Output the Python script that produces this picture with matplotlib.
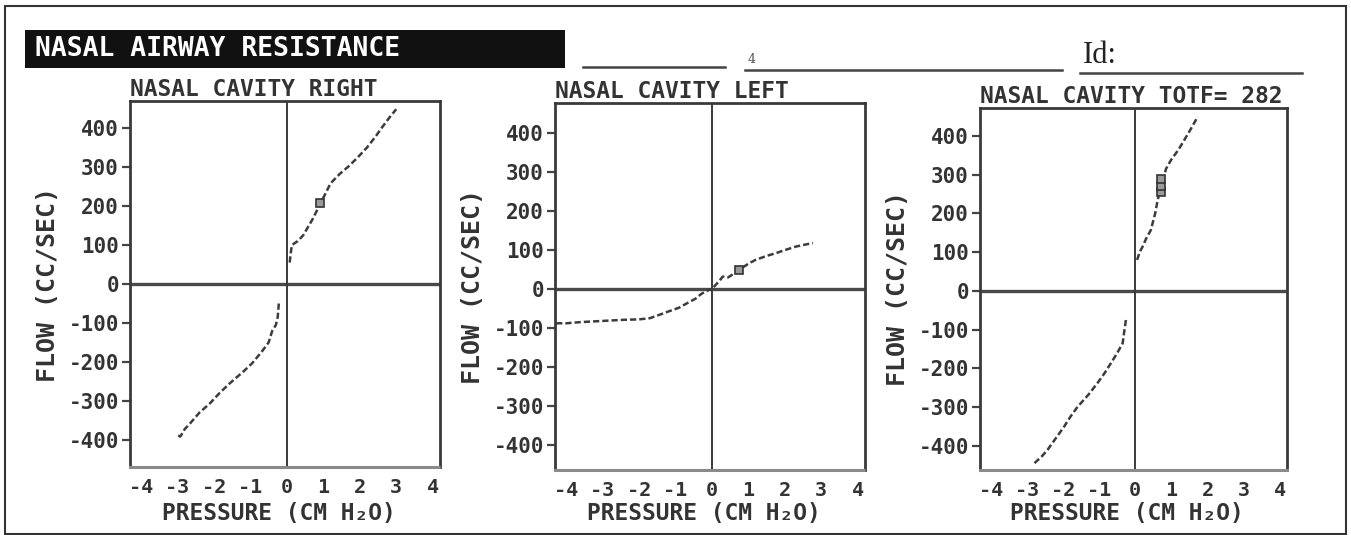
import matplotlib
matplotlib.use("Agg")
import matplotlib.pyplot as plt
from matplotlib.patches import Rectangle
from matplotlib.lines import Line2D

# ---------------------------------------------------------------------------
# data (pressure cm H2O, flow cc/sec)
# ---------------------------------------------------------------------------
panel_titles = ["NASAL CAVITY RIGHT", "NASAL CAVITY LEFT", "NASAL CAVITY TOTF= 282"]

right_pos_p = [0.08, 0.10, 0.14, 0.30, 0.45, 0.70, 1.20, 1.45, 1.70, 1.95, 2.20, 2.45, 2.60, 2.80, 3.00]
right_pos_f = [55, 75, 100, 110, 125, 165, 258, 282, 302, 325, 350, 380, 400, 425, 448]
right_neg_p = [-0.22, -0.25, -0.30, -0.40, -0.50, -0.70, -0.95, -1.20, -1.57, -1.85, -2.11, -2.40, -2.65, -2.80, -2.92, -3.05]
right_neg_f = [-50, -85, -105, -120, -150, -175, -203, -225, -255, -280, -306, -330, -357, -372, -391, -385]

left_neg_p = [-4.27, -4.0, -3.6, -3.2, -2.8, -2.4, -2.0, -1.7, -1.4, -1.2, -0.9, -0.65, -0.45, -0.28, -0.10, 0.0]
left_neg_f = [-88, -88, -85, -83, -81, -79, -78, -75, -65, -58, -48, -35, -25, -12, -3, 0]
left_pos_p = [0.05, 0.20, 0.30, 0.45, 1.00, 1.20, 1.50, 1.75, 2.00, 2.30, 2.55, 2.77]
left_pos_f = [5, 20, 32, 30, 65, 75, 85, 92, 100, 109, 114, 118]

total_neg_p = [-0.26, -0.30, -0.35, -0.50, -0.68, -0.85, -1.05, -1.30, -1.60, -1.80, -1.97, -2.20, -2.43, -2.60, -2.80]
total_neg_f = [-75, -100, -135, -160, -187, -212, -238, -268, -299, -325, -350, -380, -410, -428, -445]
total_pos_p = [0.05, 0.12, 0.20, 0.30, 0.43, 0.55, 0.62, 0.85, 0.99, 1.20, 1.36, 1.55, 1.73]
total_pos_f = [80, 100, 114, 135, 157, 200, 235, 315, 338, 365, 390, 420, 450]

# box markers
right_box_p, right_box_f = [0.90], [207]
left_box_p, left_box_f = [0.75], [48]
total_box_p, total_box_f = [0.72, 0.72, 0.72], [255, 272, 290]

y_ticks = [400, 300, 200, 100, 0, -100, -200, -300, -400]
x_ticks = [-4, -3, -2, -1, 0, 1, 2, 3, 4]

series = [
    (right_pos_p, right_pos_f, right_neg_p, right_neg_f, right_box_p, right_box_f),
    (left_pos_p, left_pos_f, left_neg_p, left_neg_f, left_box_p, left_box_f),
    (total_pos_p, total_pos_f, total_neg_p, total_neg_f, total_box_p, total_box_f),
]

# ---------------------------------------------------------------------------
W, H = 1351, 535
INK = "#333333"
MONO = ["DejaVu Sans Mono", "DejaVu Sans"]

fig = plt.figure(figsize=(W / 100, H / 100), dpi=100)


def fx(px):
    return px / W


def fy(py):
    return 1 - py / H


# axes boxes in pixels: left, top, right, bottom
boxes = [(130, 101, 440, 467), (555, 103, 865, 470), (980, 108, 1287, 470)]
ylims = [(-469, 469), (-465, 478), (-462, 472)]

for i, (l, t, r, b) in enumerate(boxes):
    ax = fig.add_axes([fx(l), fy(b), (r - l) / W, (b - t) / H])
    pp, pf, np_, nf, bp, bf = series[i]

    ax.axhline(0, color="#4a4a4a", lw=2.4, zorder=1)
    ax.axvline(0, color="#3a3a3a", lw=1.4, zorder=1)

    for xs, ys in [(pp, pf), (np_, nf)]:
        ax.plot(xs, ys, color="#3c3c3c", lw=1.8, ls=(0, (2.5, 1.2)), zorder=3)
    ax.plot(bp, bf, ls="none", marker="s", ms=6, mfc="#9a9a9a", mec="#333333", mew=1.2, zorder=4)

    ax.set_xlim(-4.3, 4.2)
    ax.set_ylim(*ylims[i])
    ax.set_yticks(y_ticks)
    ax.set_yticklabels([str(v) for v in y_ticks], family=MONO, fontsize=15,
                       fontweight="bold", color=INK)
    ax.set_xticks(x_ticks)
    ax.set_xticklabels([str(v) for v in x_ticks], family=MONO, fontsize=14.5,
                       fontweight="bold", color=INK)
    ax.tick_params(axis="y", direction="out", length=6, width=1.6, color="#444444", pad=2)
    ax.tick_params(axis="x", length=0, pad=8)

    for side in ["left", "right", "top"]:
        ax.spines[side].set_linewidth(2.0)
        ax.spines[side].set_color("#3a3a3a")
    ax.spines["bottom"].set_linewidth(2.2)
    ax.spines["bottom"].set_color("#8a8a8a")
    ax.spines["bottom"].set_linestyle((0, (5, 1)))

    ax.set_ylabel("FLOW (CC/SEC)", family=MONO, fontsize=18, fontweight="bold", color=INK)
    ax.yaxis.set_label_coords(-70 / (r - l), 0.5)
    ax.set_xlabel("PRESSURE (CM H\u2082O)", family=MONO, fontsize=16.5,
                  fontweight="bold", color=INK)
    ax.xaxis.set_label_coords(0.48, -(502 - b) / (b - t))
    ax.set_title(panel_titles[i], loc="left", family=MONO, fontsize=16.5,
                 fontweight="bold", color=INK, pad=3)

# header: black bar with title, form lines
fig.add_artist(Rectangle((fx(25), fy(68)), fx(540), 38 / H, transform=fig.transFigure,
                         facecolor="#111111", edgecolor="none"))
fig.text(fx(35), fy(49), "NASAL AIRWAY RESISTANCE", family=MONO, fontsize=19,
         fontweight="bold", color="white", va="center", ha="left")

for x0, x1, yy in [(583, 725, 67), (745, 1062, 70), (1080, 1302, 73)]:
    fig.add_artist(Line2D([fx(x0), fx(x1)], [fy(yy), fy(yy)], transform=fig.transFigure,
                          color="#444444", lw=1.8))
fig.text(fx(748), fy(66), "4", family=["DejaVu Serif"], fontsize=9, color="#555555",
         ha="left", va="bottom")
fig.text(fx(1083), fy(70), "Id:", family=["Liberation Serif", "DejaVu Serif"], fontsize=22,
         color="#222222", ha="left", va="bottom")

# outer frame of the scan
fig.add_artist(Rectangle((fx(5), fy(534)), fx(1341), 528 / H, transform=fig.transFigure,
                         facecolor="none", edgecolor="#333333", lw=1.5))

fig.savefig("out.png", dpi=100)
